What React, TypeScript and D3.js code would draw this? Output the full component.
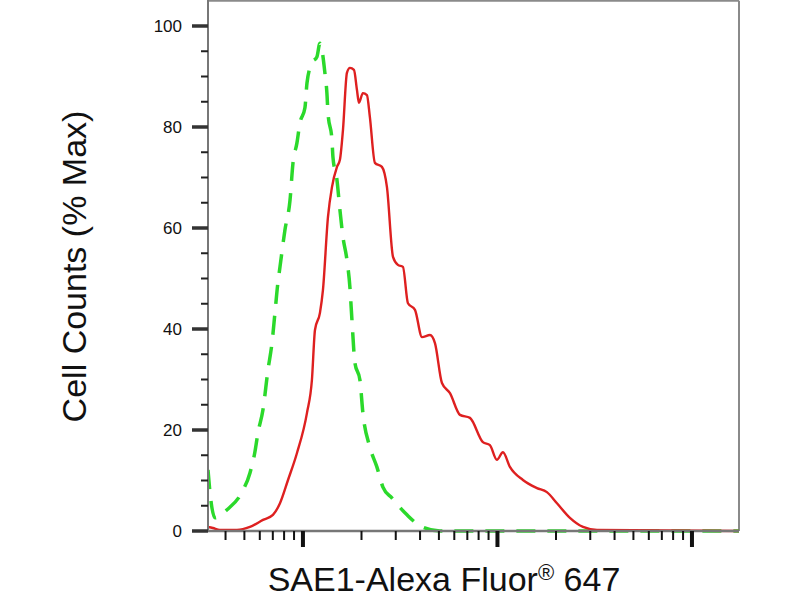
import React from 'react';
import * as d3 from 'd3';

// fluorescence intensity (log axis) and % of max counts
const redX = [32.5, 34.4, 37.4, 45.8, 53.4, 62.3, 70.1, 76.2, 83.8, 93.1, 104.9, 111.2, 115.3, 122.3, 126.7, 134.5, 141.0, 149.6, 154.9, 160.6, 168.3, 174.5, 182.9, 189.6, 194.0, 203.3, 213.3, 220.8, 234.4, 254.7, 270.3, 290.4, 307.7, 326.6, 346.6, 376.7, 409.3, 449.9, 477.2, 518.4, 570.0, 641.6, 722.2, 841.8, 914.4, 993.5, 1067, 1159, 1352, 1596, 1795, 2023, 2358, 2753, 3250, 17450];
const redY = [0.8, 0.6, 0.2, 0.2, 0.8, 2.2, 3.2, 5.5, 10.1, 15.4, 23.4, 29.9, 39.8, 43.2, 47.7, 62.2, 68.1, 72.1, 73.5, 79.4, 90.7, 91.7, 91.3, 87.3, 84.8, 86.7, 86.3, 82.0, 72.9, 72.1, 68.1, 54.3, 52.7, 52.3, 45.1, 43.8, 38.4, 38.8, 37.2, 29.3, 27.3, 23.0, 22.4, 17.6, 17.0, 14.1, 15.6, 12.7, 10.1, 8.5, 7.7, 5.5, 2.6, 0.8, 0.2, 0];

const greenX = [32.5, 33.3, 35.3, 40.7, 48.6, 53.4, 56.6, 58.7, 62.3, 66.1, 69.3, 71.8, 74.3, 76.2, 80.8, 85.8, 88.9, 93.1, 96.5, 102.4, 104.9, 111.2, 118.0, 122.3, 129.7, 132.8, 134.5, 141.0, 142.6, 149.6, 154.9, 160.6, 168.3, 174.5, 178.6, 185.0, 196.3, 203.3, 220.8, 239.9, 257.7, 287.1, 342.6, 409.3, 505.9, 17450];
const greenY = [12.1, 7.5, 2.6, 4.2, 7.7, 11.5, 15.6, 19.4, 24.0, 31.9, 37.2, 43.2, 49.1, 52.3, 59.6, 65.5, 72.9, 76.8, 80.8, 83.8, 88.7, 92.7, 93.9, 96.6, 90.7, 86.7, 82.8, 77.4, 74.1, 69.5, 63.6, 58.2, 53.7, 48.1, 41.8, 33.3, 29.9, 23.4, 16.6, 12.7, 8.7, 6.5, 3.2, 0.8, 0, 0];

const yMajor = [0, 20, 40, 60, 80, 100];
const yMinor = d3.range(0, 101, 5).filter(v => v % 20 !== 0);
const xMajor = [100, 1000, 10000];
const xMinor = [40, 50, 60, 70, 80, 90, 200, 300, 400, 500, 600, 700, 800, 900, 2000, 3000, 4000, 5000, 6000, 7000, 8000, 9000];

const W = 800;
const H = 600;
const left = 208;
const right = 739;

export default function App() {
  const x = d3.scaleLog().domain([32.5, 17450]).range([left, right]);
  const y = d3.scaleLinear().domain([0, 100]).range([531, 26]);
  const top = y(105);
  const bottom = y(0);

  const line = d3
    .line<[number, number]>()
    .x(d => x(d[0]))
    .y(d => y(d[1]))
    .curve(d3.curveMonotoneX);

  const red = line(redX.map((v, i) => [v, redY[i]]) as [number, number][]);
  const green = line(greenX.map((v, i) => [v, greenY[i]]) as [number, number][]);

  const font = '"Liberation Sans", Arial, sans-serif';

  return (
    <svg width={W} height={H} style={{ position: 'absolute', left: 0, top: 0, background: '#fff' }}>
      <defs>
        <clipPath id="plot">
          <rect x={left} y={top} width={right - left} height={bottom - top + 2} />
        </clipPath>
      </defs>

      {/* frame */}
      <line x1={left} x2={right} y1={top} y2={top} stroke="#8a8a8a" strokeWidth={2} />
      <line x1={right} x2={right} y1={top} y2={bottom} stroke="#8a8a8a" strokeWidth={2} />

      {/* curves */}
      <g clipPath="url(#plot)">
        <path d={green ?? ''} fill="none" stroke="#2bd92b" strokeWidth={3.5} strokeDasharray="19,12" />
        <path d={red ?? ''} fill="none" stroke="#de2020" strokeWidth={2.4} />
      </g>

      {/* axes */}
      <line x1={left} x2={left} y1={0} y2={bottom} stroke="#777" strokeWidth={2} />
      <line x1={left} x2={right} y1={bottom} y2={bottom} stroke="#777" strokeWidth={2.5} />

      {yMinor.map(v => (
        <line key={'ym' + v} x1={201} x2={left} y1={y(v)} y2={y(v)} stroke="#222" strokeWidth={2} />
      ))}
      {yMajor.map(v => (
        <g key={'yM' + v}>
          <line x1={192} x2={left} y1={y(v)} y2={y(v)} stroke="#333" strokeWidth={3.5} />
          <text x={182} y={y(v)} dy="0.36em" textAnchor="end" fontSize={17} fontFamily={font} fill="#111">
            {v}
          </text>
        </g>
      ))}

      {xMinor.map(v => (
        <line key={'xm' + v} x1={x(v)} x2={x(v)} y1={bottom} y2={bottom + 9} stroke="#111" strokeWidth={2} />
      ))}
      {xMajor.map(v => (
        <line key={'xM' + v} x1={x(v)} x2={x(v)} y1={bottom} y2={bottom + 16} stroke="#111" strokeWidth={4} />
      ))}

      {/* titles */}
      <text
        transform={`translate(86,${(108 + 425) / 2}) rotate(-90)`}
        textAnchor="middle"
        fontSize={34}
        fontFamily={font}
        fill="#111"
      >
        Cell Counts (% Max)
      </text>
      <text x={444} y={591} textAnchor="middle" fontSize={34} fontFamily={font} fill="#111">
        SAE1-Alexa Fluor
        <tspan fontSize={22} dy={-11}>®</tspan>
        <tspan dy={11}> 647</tspan>
      </text>
    </svg>
  );
}
